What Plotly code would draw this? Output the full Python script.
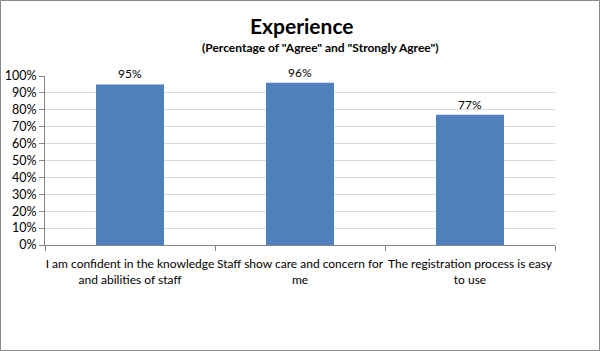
import plotly.graph_objects as go

categories = ["I am confident in the knowledge<br>and abilities of staff",
              "Staff show care and concern for<br>me",
              "The registration process is easy<br>to use"]
values = [0.95, 0.96, 0.77]
labels = ["95%", "96%", "77%"]
tick_vals = [i / 10 for i in range(11)]
tick_text = [f"{i*10}%" for i in range(11)]

W, H = 600, 351
L, R, T, B = 45, 45, 76, 106
pw, ph = W - L - R, H - T - B

fig = go.Figure(go.Bar(
    x=categories, y=values, text=labels, textposition="outside",
    cliponaxis=False, width=0.4,
    marker=dict(color="#4F81BD", line=dict(color="#4F81BD", width=0)),
    textfont=dict(size=12, color="#000000"),
))

def px2paper_x(p):
    return (p - L) / pw

def px2paper_y(p):
    return (H - B - p) / ph

fig.add_shape(type="rect", xref="paper", yref="paper",
              x0=px2paper_x(0.5), x1=px2paper_x(W - 0.5),
              y0=px2paper_y(H - 0.5), y1=px2paper_y(0.5),
              line=dict(color="#888888", width=1), layer="below")

fig.update_layout(
    width=W, height=H, margin=dict(l=L, r=R, t=T, b=B, autoexpand=False),
    paper_bgcolor="white", plot_bgcolor="white",
    font=dict(family="Lato, 'Open Sans', sans-serif", size=12, color="#000000"),
    showlegend=False, bargap=0.6,
    annotations=[
        dict(text="<b>Experience</b>", x=px2paper_x(302), y=px2paper_y(25),
             xref="paper", yref="paper", showarrow=False, font=dict(size=21),
             xanchor="center", yanchor="middle"),
        dict(text="<b>(Percentage of \"Agree\" and \"Strongly Agree\")</b>",
             x=px2paper_x(320), y=px2paper_y(47), xref="paper", yref="paper",
             showarrow=False, font=dict(size=12), xanchor="center",
             yanchor="middle"),
    ],
)
fig.update_xaxes(showline=True, linecolor="#868686", ticks="outside",
                 tickson="boundaries", ticklen=5, tickcolor="#868686",
                 showgrid=False, tickfont=dict(size=12), tickangle=0,
                 automargin=False, ticklabelstandoff=8)
fig.update_yaxes(range=[0, 1], tickvals=tick_vals, ticktext=tick_text,
                 showline=True, linecolor="#868686", ticks="outside",
                 ticklen=5, tickcolor="#868686", gridcolor="#D9D9D9",
                 zeroline=False, tickfont=dict(size=12.5), automargin=False)

fig.write_html("out.html")
